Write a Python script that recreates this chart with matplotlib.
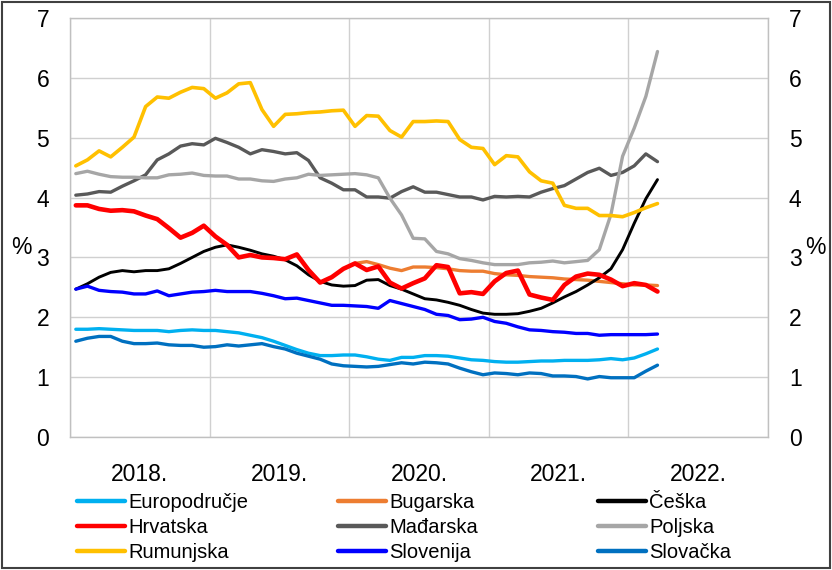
import numpy as np
import matplotlib
matplotlib.use("Agg")
import matplotlib.pyplot as plt
from matplotlib.patches import Rectangle

plt.rcParams['font.family'] = ['Liberation Sans', 'DejaVu Sans']

# mjesečni podaci, siječanj 2018. - ožujak 2022.
mjeseci = 51
x = 2018 + (np.arange(mjeseci) + 0.5) / 12

euro = [1.80, 1.80, 1.81, 1.80, 1.79, 1.78, 1.78, 1.78, 1.76, 1.78, 1.79, 1.78, 1.78, 1.76, 1.74, 1.70, 1.66,
        1.60, 1.53, 1.46, 1.40, 1.36, 1.36, 1.37, 1.37, 1.34, 1.30, 1.28, 1.33, 1.33, 1.36, 1.36, 1.35, 1.32,
        1.29, 1.28, 1.26, 1.25, 1.25, 1.26, 1.27, 1.27, 1.28, 1.28, 1.28, 1.29, 1.31, 1.29, 1.32, 1.39, 1.47]
bug = [np.nan] * 24 + [2.90, 2.93, 2.88, 2.82, 2.78, 2.84, 2.84, 2.83, 2.81, 2.78, 2.77, 2.77, 2.73, 2.71,
                       2.70, 2.68, 2.67, 2.66, 2.64, 2.63, 2.62, 2.60, 2.58, 2.56, 2.54, 2.54, 2.53]
cz = [2.47, 2.56, 2.67, 2.75, 2.78, 2.76, 2.78, 2.78, 2.81, 2.90, 3.00, 3.10, 3.17, 3.21, 3.17, 3.12, 3.06,
      3.02, 2.96, 2.86, 2.71, 2.60, 2.54, 2.52, 2.53, 2.62, 2.63, 2.53, 2.47, 2.39, 2.31, 2.29, 2.25, 2.20,
      2.13, 2.07, 2.05, 2.05, 2.06, 2.10, 2.15, 2.24, 2.34, 2.43, 2.54, 2.66, 2.81, 3.13, 3.57, 3.98, 4.30]
hr = [3.87, 3.87, 3.81, 3.78, 3.79, 3.77, 3.70, 3.64, 3.49, 3.33, 3.41, 3.53, 3.35, 3.21, 3.00, 3.04, 3.00,
      2.99, 2.97, 3.05, 2.79, 2.58, 2.67, 2.81, 2.90, 2.79, 2.85, 2.58, 2.48, 2.57, 2.65, 2.87, 2.84, 2.40,
      2.42, 2.39, 2.60, 2.74, 2.78, 2.38, 2.33, 2.29, 2.54, 2.68, 2.73, 2.71, 2.63, 2.52, 2.57, 2.54, 2.43]
hu = [4.04, 4.06, 4.10, 4.09, 4.19, 4.28, 4.38, 4.63, 4.73, 4.86, 4.90, 4.88, 4.99, 4.92, 4.84, 4.73, 4.80,
      4.77, 4.73, 4.75, 4.62, 4.33, 4.24, 4.13, 4.13, 4.01, 4.01, 3.99, 4.10, 4.18, 4.09, 4.09, 4.05, 4.01,
      4.01, 3.96, 4.02, 4.01, 4.02, 4.01, 4.09, 4.15, 4.20, 4.31, 4.42, 4.49, 4.37, 4.42, 4.53, 4.73, 4.60]
pl = [4.40, 4.44, 4.39, 4.35, 4.34, 4.34, 4.33, 4.33, 4.38, 4.39, 4.41, 4.37, 4.36, 4.36, 4.31, 4.31, 4.28,
      4.27, 4.31, 4.33, 4.39, 4.37, 4.38, 4.39, 4.40, 4.38, 4.33, 3.99, 3.71, 3.32, 3.31, 3.10, 3.06, 2.98,
      2.95, 2.91, 2.88, 2.88, 2.88, 2.91, 2.92, 2.94, 2.91, 2.93, 2.95, 3.13, 3.72, 4.69, 5.16, 5.69, 6.44]
ro = [4.53, 4.63, 4.78, 4.68, 4.84, 5.01, 5.52, 5.68, 5.66, 5.76, 5.84, 5.82, 5.66, 5.75, 5.90, 5.92, 5.47,
      5.19, 5.39, 5.40, 5.42, 5.43, 5.45, 5.46, 5.19, 5.37, 5.36, 5.12, 5.01, 5.27, 5.27, 5.28, 5.27, 4.97,
      4.84, 4.82, 4.55, 4.70, 4.68, 4.43, 4.28, 4.24, 3.87, 3.82, 3.82, 3.70, 3.70, 3.68, 3.75, 3.83, 3.90]
si = [2.47, 2.52, 2.45, 2.43, 2.42, 2.39, 2.39, 2.44, 2.36, 2.39, 2.42, 2.43, 2.45, 2.43, 2.43, 2.43, 2.40,
      2.36, 2.31, 2.32, 2.28, 2.24, 2.20, 2.20, 2.19, 2.18, 2.15, 2.28, 2.23, 2.18, 2.13, 2.05, 2.03, 1.96,
      1.97, 2.00, 1.93, 1.90, 1.84, 1.79, 1.78, 1.76, 1.75, 1.73, 1.73, 1.70, 1.71, 1.71, 1.71, 1.71, 1.72]
sk = [1.60, 1.65, 1.68, 1.68, 1.60, 1.56, 1.56, 1.57, 1.54, 1.53, 1.53, 1.50, 1.51, 1.54, 1.52, 1.54, 1.56,
      1.51, 1.47, 1.40, 1.35, 1.30, 1.22, 1.19, 1.18, 1.17, 1.18, 1.21, 1.24, 1.22, 1.25, 1.24, 1.22, 1.15,
      1.09, 1.04, 1.07, 1.06, 1.04, 1.07, 1.06, 1.02, 1.02, 1.01, 0.97, 1.01, 0.99, 0.99, 0.99, 1.10, 1.20]

nazivi = ["Europodručje", "Bugarska", "Češka", "Hrvatska", "Mađarska", "Poljska", "Rumunjska", "Slovenija", "Slovačka"]
serije = [euro, bug, cz, hr, hu, pl, ro, si, sk]
boje = ["#00B0F0", "#ED7D31", "#000000", "#FF0000", "#595959", "#A6A6A6", "#FFC000", "#0000FF", "#0070C0"]
debljine = [2.4, 2.4, 2.1, 3.3, 2.4, 2.4, 2.6, 2.4, 2.4]

godine = [2018, 2019, 2020, 2021, 2022]

fig = plt.figure(figsize=(8.32, 5.70), dpi=100)
ax = fig.add_axes([70 / 832, 1 - 437 / 570, 698 / 832, 419 / 570])

linije = []
for y, naziv, boja, lw in zip(serije, nazivi, boje, debljine):
    l, = ax.plot(x, y, color=boja, lw=lw, label=naziv, solid_joinstyle='round', solid_capstyle='round')
    linije.append(l)

ax.set_xlim(2018, 2023)
ax.set_ylim(0, 7)
ax.set_yticks(range(8))
ax.set_xticks(godine + [2023])
ax.set_xticklabels([])
ax.set_xticks([g + 0.5 for g in godine], minor=True)
ax.set_xticklabels([str(g) + "." for g in godine], minor=True)
ax.tick_params(axis='both', which='both', length=0, labelsize=16.5)
ax.tick_params(axis='y', pad=15, labelright=True)
ax.tick_params(axis='x', which='minor', pad=19)
ax.grid(True, which='major', color='#D0D0D0', lw=1)
for s in ax.spines.values():
    s.set_color('#C0C0C0')
    s.set_linewidth(1)

fig.text(21 / 832, 1 - 247 / 570, "%", fontsize=16.5, ha='center', va='center')
fig.text(815 / 832, 1 - 247 / 570, "%", fontsize=16.5, ha='center', va='center')

# legenda u tri stupca
for k, xs in enumerate([77, 338, 598]):
    hs = [linije[k], linije[k + 3], linije[k + 6]]
    leg = fig.legend(hs, [h.get_label() for h in hs], loc='upper left',
                     bbox_to_anchor=(xs / 832, 1 - 493 / 570), frameon=False, fontsize=14.5,
                     handlelength=2.4, handletextpad=0.15, labelspacing=0.3,
                     borderpad=0, borderaxespad=0)
    for lh in leg.get_lines():
        lh.set_linewidth(3.2)

fig.patches.append(Rectangle((0.002, 0.003), 0.996, 0.994, transform=fig.transFigure,
                             fill=False, ec='#404040', lw=1.5))

fig.savefig("out.png", dpi=100)
